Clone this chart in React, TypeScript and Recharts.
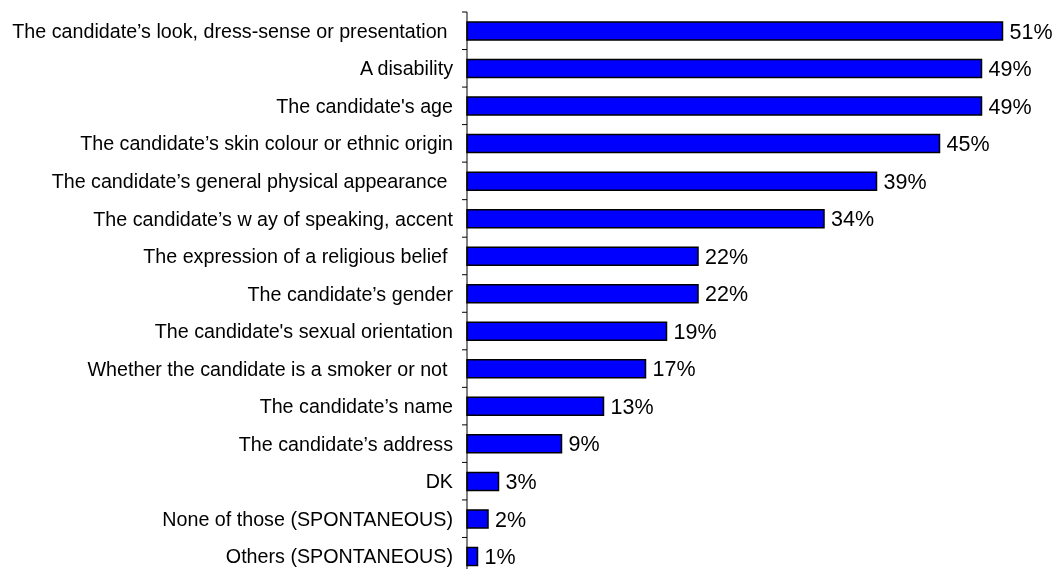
import React from "react";
import { BarChart, Bar, XAxis, YAxis, LabelList } from "recharts";

const categories = [
  "The candidate\u2019s look, dress-sense or presentation\u00A0",
  "A disability",
  "The candidate's age",
  "The candidate\u2019s skin colour or ethnic origin",
  "The candidate\u2019s general physical appearance\u00A0",
  "The candidate\u2019s w ay of speaking, accent",
  "The expression of a religious belief\u00A0",
  "The candidate\u2019s gender",
  "The candidate's sexual orientation",
  "Whether the candidate is a smoker or not\u00A0",
  "The candidate\u2019s name",
  "The candidate\u2019s address",
  "DK",
  "None of those (SPONTANEOUS)",
  "Others (SPONTANEOUS)",
];

const values = [51, 49, 49, 45, 39, 34, 22, 22, 19, 17, 13, 9, 3, 2, 1];

const data = categories.map((name, i) => ({ name, value: values[i] }));

const TICK_SIZE = 5;
const TICK_MARGIN = 9;

const CategoryTick = (props: any) => {
  const { x, y, payload } = props;
  const half = payload && typeof payload.offset === "number" && payload.offset > 0 ? payload.offset : 18.75;
  const axisX = x + TICK_SIZE + TICK_MARGIN;
  return (
    <g>
      <line x1={axisX - TICK_SIZE} x2={axisX} y1={y - half} y2={y - half} stroke="#000" strokeWidth={1} />
      <text
        x={x}
        y={y}
        dy="0.36em"
        textAnchor="end"
        fill="#000"
        fontSize={19.7}
        style={{ whiteSpace: "pre" }}
      >
        {payload.value}
      </text>
    </g>
  );
};

export default function App() {
  return (
    <div style={{ position: "fixed", left: 8, top: 8, width: 1051, height: 561, overflow: "hidden" }}>
      <BarChart
        width={1051}
        height={575}
        data={data}
        layout="vertical"
        margin={{ top: 4, right: 4, bottom: 8, left: 0 }}
        style={{ fontFamily: "'Liberation Sans', Arial, sans-serif" }}
      >
        <XAxis type="number" domain={[0, 56]} hide />
        <YAxis
          type="category"
          dataKey="name"
          width={459}
          axisLine={{ stroke: "#000", strokeWidth: 1 }}
          tickLine={false}
          tickSize={TICK_SIZE}
          tickMargin={TICK_MARGIN}
          tick={<CategoryTick />}
          interval={0}
        />
        <Bar dataKey="value" barSize={18} fill="#0000FF" stroke="#000" strokeWidth={1.5} isAnimationActive={false}>
          <LabelList
            dataKey="value"
            position="right"
            offset={7}
            formatter={(v: any) => `${v}%`}
            style={{ fontSize: 21.5, fill: "#000" }}
          />
        </Bar>
      </BarChart>
    </div>
  );
}
